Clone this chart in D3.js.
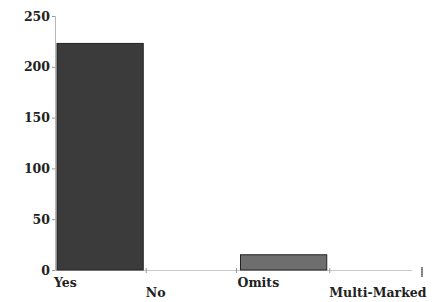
<!DOCTYPE html>
<html><head><meta charset="utf-8">
<script src="https://cdn.jsdelivr.net/npm/d3@7"></script>
<style>body{margin:0;background:#fff}</style>
</head><body>
<svg id="c" width="446" height="302"></svg>
<script>
const categories = ["Yes", "No", "Omits", "Multi-Marked"];
const values = [223, 0, 15, 0];
const barColors = ["#3b3b3b", "#3b3b3b", "#6e6e6e", "#6e6e6e"];
const yTicks = [0, 50, 100, 150, 200, 250];

const svg = d3.select("#c");
const y = d3.scaleLinear().domain([0, 250]).range([270, 16]);
const x = d3.scaleBand().domain(categories).range([57, 418.5]).paddingInner(0.06).paddingOuter(0).align(0);
const font = "DejaVu Serif";

// y axis
const yAxis = d3.axisLeft(y).tickValues(yTicks).tickSize(3).tickPadding(2);
const gy = svg.append("g").attr("transform", "translate(55,0)").call(yAxis);
gy.select(".domain").attr("stroke", "#b5b5b5");
gy.selectAll(".tick line").attr("stroke", "#999");
gy.selectAll("text").attr("font-family", font).attr("font-weight", "bold")
  .attr("font-size", 12.5).attr("fill", "#222");

// baseline
svg.append("line").attr("x1", 55).attr("x2", 412).attr("y1", 270.5).attr("y2", 270.5)
  .attr("stroke", "#c8c8c8");
// x ticks at band boundaries
const bounds = [x("Yes") + x.bandwidth() + 3, x("Omits") - 4, x("Omits") + x.bandwidth() + 3];
svg.selectAll(".xt").data(bounds).enter().append("line")
  .attr("x1", d => d).attr("x2", d => d).attr("y1", 268).attr("y2", 273).attr("stroke", "#999");
svg.append("line").attr("x1", 422).attr("x2", 422).attr("y1", 267).attr("y2", 277)
  .attr("stroke", "#444").attr("stroke-width", 1.3);

// bars
svg.selectAll(".bar").data(categories).enter().append("rect")
  .attr("x", d => x(d))
  .attr("y", (d, i) => y(values[i]))
  .attr("width", x.bandwidth())
  .attr("height", (d, i) => y(0) - y(values[i]))
  .attr("fill", (d, i) => barColors[i])
  .attr("stroke", "#222").attr("stroke-width", (d, i) => values[i] > 0 ? 1 : 0);

// category labels (staggered)
svg.selectAll(".lab").data(categories).enter().append("text")
  .attr("x", d => x(d) - 3)
  .attr("y", (d, i) => i % 2 === 0 ? 287 : 297)
  .attr("font-family", font).attr("font-weight", "bold")
  .attr("font-size", 12.5).attr("fill", "#222")
  .text(d => d);
</script>
</body></html>
